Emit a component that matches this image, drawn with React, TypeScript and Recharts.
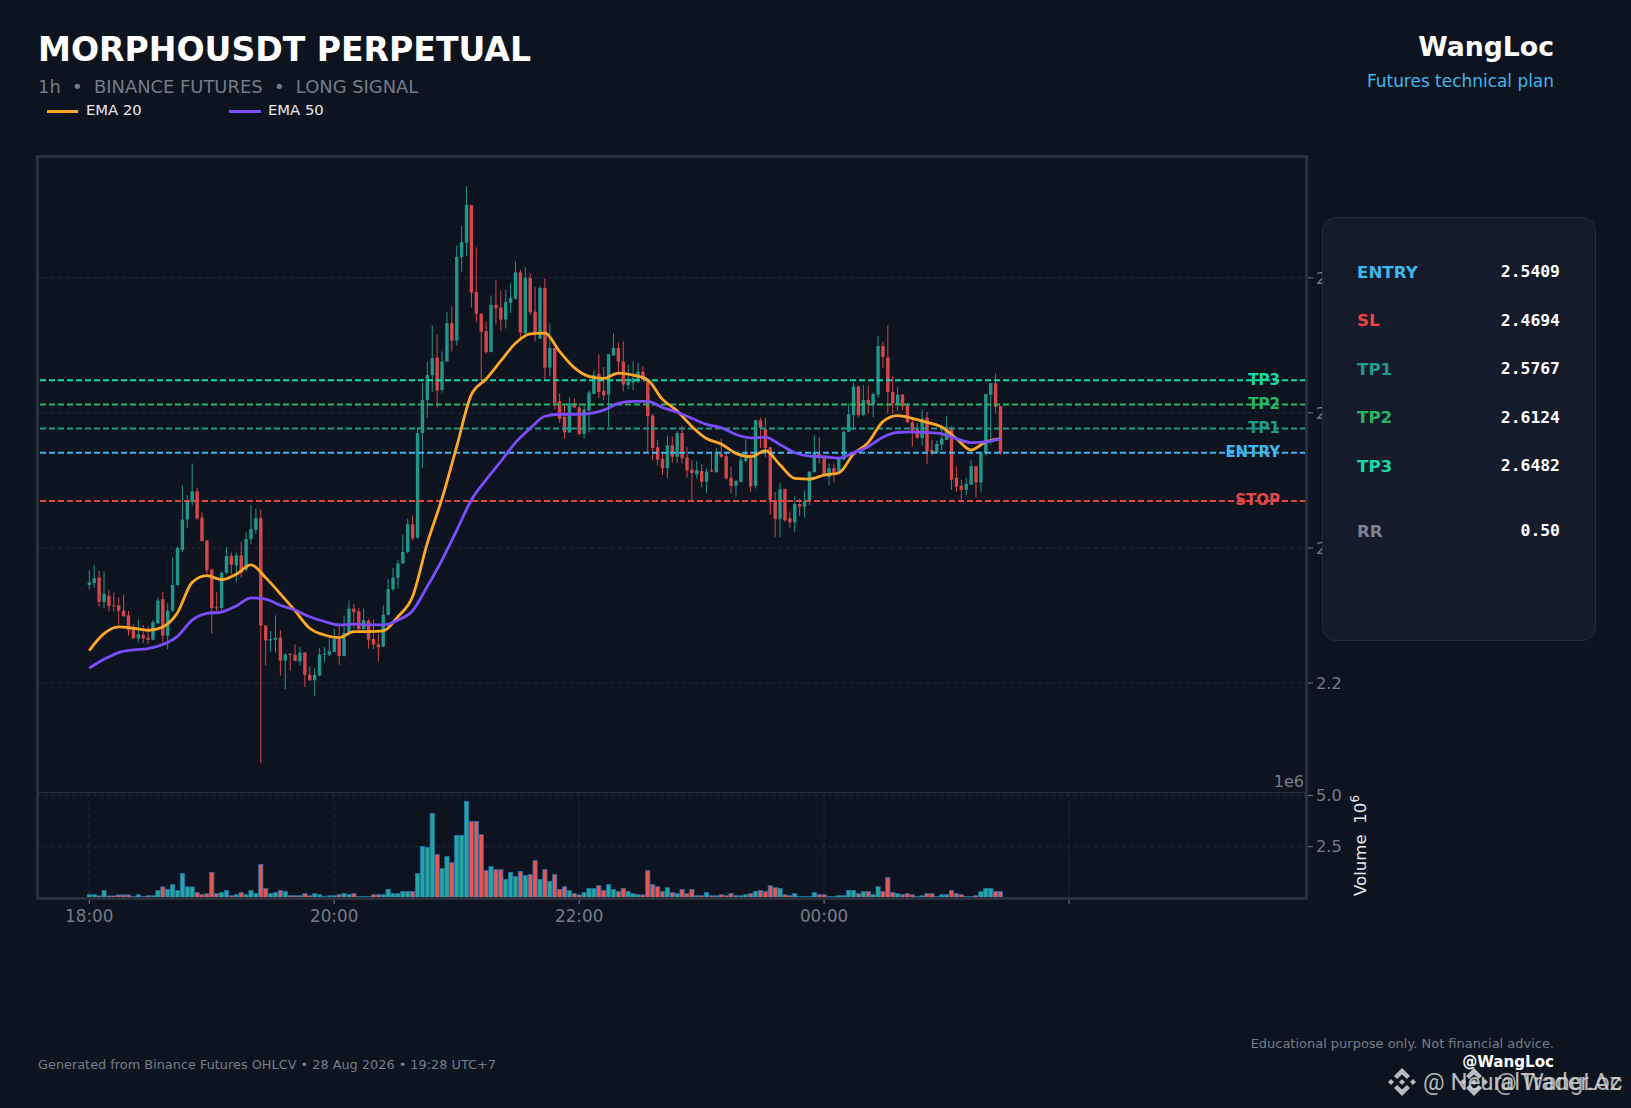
import {
  Bar,
  CartesianGrid,
  ComposedChart,
  Line,
  ReferenceLine,
  XAxis,
  YAxis,
} from "recharts";

const opens = [
  2.345, 2.348, 2.356, 2.32, 2.329, 2.315, 2.315, 2.307, 2.3, 2.281,
  2.266, 2.271, 2.267, 2.264, 2.288, 2.324, 2.27, 2.307, 2.345, 2.397,
  2.442, 2.468, 2.484, 2.445, 2.411, 2.368, 2.312, 2.311, 2.363, 2.388,
  2.374, 2.389, 2.368, 2.413, 2.427, 2.444, 2.285, 2.263, 2.264, 2.267,
  2.233, 2.243, 2.242, 2.232, 2.245, 2.212, 2.204, 2.211, 2.242, 2.242,
  2.246, 2.265, 2.24, 2.274, 2.31, 2.306, 2.28, 2.292, 2.265, 2.257,
  2.254, 2.301, 2.339, 2.356, 2.377, 2.394, 2.435, 2.415, 2.57, 2.619,
  2.656, 2.682, 2.634, 2.676, 2.733, 2.707, 2.831, 2.852, 2.908, 2.779,
  2.747, 2.721, 2.69, 2.76, 2.756, 2.738, 2.763, 2.769, 2.808, 2.718,
  2.8, 2.75, 2.71, 2.785, 2.667, 2.696, 2.617, 2.594, 2.571, 2.614,
  2.608, 2.569, 2.604, 2.628, 2.658, 2.633, 2.627, 2.685, 2.696, 2.676,
  2.641, 2.645, 2.649, 2.661, 2.648, 2.596, 2.549, 2.532, 2.518, 2.552,
  2.535, 2.57, 2.534, 2.516, 2.509, 2.514, 2.498, 2.515, 2.512, 2.539,
  2.536, 2.504, 2.492, 2.498, 2.529, 2.532, 2.492, 2.589, 2.576, 2.549,
  2.471, 2.443, 2.487, 2.444, 2.438, 2.465, 2.461, 2.469, 2.512, 2.539,
  2.534, 2.505, 2.518, 2.512, 2.531, 2.572, 2.597, 2.639, 2.597, 2.619,
  2.613, 2.627, 2.699, 2.682, 2.631, 2.613, 2.627, 2.611, 2.586, 2.575,
  2.563, 2.593, 2.545, 2.541, 2.553, 2.56, 2.578, 2.504, 2.492, 2.486,
  2.494, 2.521, 2.497, 2.54, 2.627, 2.644, 2.61,
];

const highs = [
  2.367, 2.374, 2.366, 2.365, 2.338, 2.334, 2.327, 2.331, 2.307, 2.287,
  2.294, 2.286, 2.284, 2.293, 2.326, 2.335, 2.318, 2.386, 2.402, 2.492,
  2.478, 2.525, 2.489, 2.453, 2.411, 2.369, 2.335, 2.365, 2.401, 2.393,
  2.393, 2.409, 2.423, 2.463, 2.458, 2.457, 2.286, 2.277, 2.3, 2.278,
  2.244, 2.244, 2.257, 2.253, 2.246, 2.224, 2.222, 2.252, 2.253, 2.266,
  2.28, 2.286, 2.3, 2.322, 2.317, 2.311, 2.31, 2.295, 2.294, 2.273,
  2.315, 2.354, 2.37, 2.382, 2.419, 2.443, 2.448, 2.579, 2.645, 2.676,
  2.729, 2.716, 2.691, 2.749, 2.758, 2.848, 2.877, 2.936, 2.908, 2.845,
  2.747, 2.735, 2.774, 2.797, 2.781, 2.782, 2.792, 2.824, 2.812, 2.816,
  2.807, 2.786, 2.788, 2.799, 2.733, 2.696, 2.629, 2.614, 2.623, 2.622,
  2.614, 2.611, 2.633, 2.663, 2.687, 2.668, 2.687, 2.718, 2.705, 2.706,
  2.671, 2.677, 2.674, 2.669, 2.651, 2.599, 2.56, 2.542, 2.566, 2.565,
  2.573, 2.581, 2.549, 2.53, 2.529, 2.524, 2.518, 2.54, 2.548, 2.562,
  2.543, 2.52, 2.501, 2.54, 2.561, 2.543, 2.59, 2.593, 2.593, 2.55,
  2.483, 2.496, 2.488, 2.454, 2.476, 2.473, 2.485, 2.513, 2.567, 2.564,
  2.535, 2.525, 2.525, 2.534, 2.574, 2.614, 2.645, 2.64, 2.641, 2.64,
  2.63, 2.714, 2.706, 2.73, 2.655, 2.638, 2.628, 2.614, 2.591, 2.585,
  2.605, 2.601, 2.56, 2.559, 2.578, 2.595, 2.58, 2.521, 2.501, 2.504,
  2.53, 2.521, 2.541, 2.628, 2.644, 2.658, 2.61,
];

const lows = [
  2.338, 2.341, 2.313, 2.311, 2.306, 2.306, 2.286, 2.298, 2.27, 2.265,
  2.26, 2.259, 2.258, 2.263, 2.288, 2.26, 2.25, 2.305, 2.344, 2.394,
  2.429, 2.463, 2.441, 2.41, 2.362, 2.273, 2.306, 2.307, 2.361, 2.361,
  2.349, 2.356, 2.365, 2.406, 2.421, 2.081, 2.226, 2.246, 2.245, 2.211,
  2.191, 2.218, 2.232, 2.226, 2.194, 2.203, 2.181, 2.21, 2.231, 2.24,
  2.246, 2.227, 2.239, 2.269, 2.281, 2.274, 2.274, 2.251, 2.25, 2.232,
  2.253, 2.3, 2.336, 2.34, 2.376, 2.392, 2.411, 2.414, 2.519, 2.593,
  2.631, 2.608, 2.63, 2.675, 2.691, 2.7, 2.809, 2.832, 2.756, 2.734,
  2.649, 2.687, 2.69, 2.731, 2.721, 2.725, 2.748, 2.768, 2.711, 2.715,
  2.745, 2.706, 2.709, 2.65, 2.654, 2.605, 2.585, 2.562, 2.571, 2.607,
  2.567, 2.562, 2.571, 2.628, 2.622, 2.619, 2.579, 2.685, 2.661, 2.632,
  2.635, 2.634, 2.644, 2.649, 2.54, 2.53, 2.522, 2.508, 2.503, 2.526,
  2.526, 2.525, 2.504, 2.47, 2.503, 2.49, 2.481, 2.512, 2.512, 2.533,
  2.501, 2.481, 2.476, 2.497, 2.527, 2.483, 2.488, 2.548, 2.535, 2.449,
  2.416, 2.416, 2.439, 2.43, 2.424, 2.447, 2.445, 2.464, 2.512, 2.525,
  2.506, 2.493, 2.497, 2.512, 2.53, 2.572, 2.574, 2.594, 2.596, 2.599,
  2.593, 2.622, 2.667, 2.599, 2.599, 2.603, 2.604, 2.585, 2.55, 2.562,
  2.552, 2.524, 2.537, 2.539, 2.544, 2.56, 2.486, 2.483, 2.47, 2.478,
  2.493, 2.474, 2.482, 2.537, 2.553, 2.599, 2.538,
];

const closes = [
  2.349, 2.355, 2.32, 2.332, 2.314, 2.314, 2.307, 2.299, 2.278, 2.266,
  2.272, 2.266, 2.264, 2.29, 2.322, 2.27, 2.307, 2.345, 2.4, 2.442,
  2.468, 2.484, 2.444, 2.41, 2.367, 2.311, 2.311, 2.363, 2.388, 2.375,
  2.389, 2.363, 2.413, 2.428, 2.444, 2.285, 2.263, 2.265, 2.267, 2.233,
  2.242, 2.242, 2.233, 2.245, 2.212, 2.204, 2.212, 2.242, 2.243, 2.247,
  2.265, 2.24, 2.274, 2.31, 2.305, 2.28, 2.293, 2.264, 2.257, 2.253,
  2.301, 2.339, 2.356, 2.377, 2.394, 2.435, 2.414, 2.57, 2.619, 2.656,
  2.681, 2.633, 2.676, 2.733, 2.707, 2.831, 2.853, 2.908, 2.778, 2.747,
  2.72, 2.69, 2.76, 2.755, 2.738, 2.764, 2.77, 2.808, 2.719, 2.8,
  2.749, 2.718, 2.785, 2.667, 2.696, 2.614, 2.591, 2.571, 2.614, 2.608,
  2.569, 2.605, 2.63, 2.656, 2.631, 2.626, 2.687, 2.696, 2.676, 2.642,
  2.646, 2.651, 2.661, 2.649, 2.595, 2.548, 2.531, 2.518, 2.552, 2.535,
  2.57, 2.533, 2.515, 2.511, 2.515, 2.498, 2.513, 2.513, 2.54, 2.535,
  2.503, 2.492, 2.499, 2.53, 2.533, 2.491, 2.589, 2.578, 2.548, 2.471,
  2.443, 2.487, 2.441, 2.438, 2.465, 2.461, 2.469, 2.513, 2.542, 2.535,
  2.506, 2.518, 2.51, 2.532, 2.572, 2.598, 2.639, 2.597, 2.619, 2.613,
  2.628, 2.699, 2.683, 2.631, 2.614, 2.627, 2.61, 2.586, 2.574, 2.563,
  2.591, 2.543, 2.541, 2.554, 2.562, 2.579, 2.501, 2.491, 2.486, 2.495,
  2.521, 2.497, 2.539, 2.628, 2.644, 2.609, 2.541,
];

// volume in millions, one per candle
const volumes = [
  0.16, 0.16, 0.1, 0.36, 0.1, 0.1, 0.15, 0.15, 0.15, 0.07,
  0.16, 0.07, 0.11, 0.11, 0.36, 0.54, 0.41, 0.65, 0.36, 1.19,
  0.54, 0.54, 0.26, 0.16, 0.21, 1.24, 0.21, 0.26, 0.36, 0.11,
  0.16, 0.26, 0.16, 0.36, 0.21, 1.63, 0.46, 0.21, 0.26, 0.36,
  0.31, 0.11, 0.11, 0.11, 0.21, 0.11, 0.21, 0.16, 0.07, 0.11,
  0.11, 0.16, 0.21, 0.16, 0.21, 0.07, 0.07, 0.07, 0.16, 0.16,
  0.16, 0.41, 0.21, 0.21, 0.31, 0.31, 0.31, 1.19, 2.51, 2.46,
  4.12, 2.12, 1.43, 2.02, 1.73, 3.05, 3.05, 4.71, 3.73, 3.73,
  3.09, 1.34, 1.53, 1.38, 1.38, 0.9, 1.24, 1.04, 1.29, 1.09,
  1.14, 1.82, 0.9, 1.38, 0.8, 1.14, 0.41, 0.55, 0.36, 0.21,
  0.15, 0.26, 0.46, 0.46, 0.6, 0.36, 0.65, 0.41, 0.31, 0.46,
  0.31, 0.21, 0.16, 0.15, 1.34, 0.65, 0.55, 0.31, 0.5, 0.26,
  0.21, 0.41, 0.21, 0.41, 0.11, 0.11, 0.26, 0.11, 0.11, 0.16,
  0.11, 0.21, 0.11, 0.11, 0.16, 0.21, 0.31, 0.36, 0.31, 0.6,
  0.5, 0.46, 0.16, 0.11, 0.21, 0.07, 0.07, 0.07, 0.26, 0.16,
  0.16, 0.07, 0.07, 0.11, 0.11, 0.36, 0.36, 0.21, 0.31, 0.31,
  0.16, 0.55, 0.31, 0.99, 0.26, 0.21, 0.16, 0.21, 0.16, 0.07,
  0.11, 0.21, 0.21, 0.07, 0.16, 0.16, 0.36, 0.21, 0.16, 0.07,
  0.07, 0.11, 0.31, 0.46, 0.46, 0.31, 0.31,
];

// at every 3rd candle
const EMA_STEP = 3;
const ema20 = [
  2.248, 2.273, 2.283, 2.281, 2.278, 2.283, 2.304, 2.349, 2.359, 2.353,
  2.361, 2.375, 2.356, 2.332, 2.307, 2.281, 2.271, 2.267, 2.276, 2.276,
  2.277, 2.298, 2.328, 2.407, 2.473, 2.55, 2.627, 2.65, 2.677, 2.703,
  2.717, 2.718, 2.691, 2.667, 2.654, 2.651, 2.659, 2.656, 2.649, 2.62,
  2.603, 2.58, 2.562, 2.554, 2.54, 2.535, 2.544, 2.523, 2.503, 2.502,
  2.508, 2.511, 2.539, 2.556, 2.587, 2.596, 2.592, 2.586, 2.579, 2.562,
  2.545, 2.557, 2.562,
];
const ema50 = [
  2.222, 2.235, 2.245, 2.249, 2.251, 2.257, 2.269, 2.293, 2.303, 2.305,
  2.314, 2.326, 2.324, 2.315, 2.308, 2.298, 2.291, 2.286, 2.287, 2.286,
  2.286, 2.293, 2.307, 2.343, 2.382, 2.426, 2.471, 2.501, 2.528, 2.556,
  2.577, 2.595, 2.598, 2.598, 2.599, 2.604, 2.614, 2.617, 2.617, 2.608,
  2.601, 2.592, 2.583, 2.578, 2.568, 2.563, 2.564, 2.553, 2.541, 2.536,
  2.535, 2.533, 2.541, 2.55, 2.564, 2.571, 2.572, 2.571, 2.569, 2.562,
  2.556, 2.557, 2.562,
];

const TICK_POSITIONS = [0, 50, 100, 150, 200];
const TICK_LABELS = ["18:00", "20:00", "22:00", "00:00", ""];
const PRICE_TICKS = [2.2, 2.4, 2.6, 2.8];
const VOLUME_TICKS = [2.5, 5];

const LEVEL_NAMES = ["TP3", "TP2", "TP1", "ENTRY", "STOP"];
const LEVEL_VALUES = [2.6482, 2.6124, 2.5767, 2.5409, 2.4694];
const LEVEL_COLORS = ["#17d9a5", "#28b463", "#1f9a8c", "#3fb6ec", "#e04848"];

const PLAN_NAMES = ["ENTRY", "SL", "TP1", "TP2", "TP3"];
const PLAN_VALUES = ["2.5409", "2.4694", "2.5767", "2.6124", "2.6482"];
const PLAN_COLORS = ["#3fb6ec", "#ef4444", "#1f9a8c", "#28b463", "#17d9a5"];

const UP = "#22958a";
const DOWN = "#d44749";
const GRID = "#232a37";
const MUTED = "#767c88";
const X_DOMAIN = [-10.67, 248.37];
const FONT = "'DejaVu Sans', sans-serif";

const candleRows = opens.map((open, i) => ({
  i,
  open,
  close: closes[i],
  high: highs[i],
  low: lows[i],
  range: [lows[i], highs[i]],
  volume: volumes[i],
}));

const emaRows = ema20.map((v, k) => ({
  i: k * EMA_STEP,
  ema20: v,
  ema50: ema50[k],
}));

// the library floors the bar offset, so the centre sits half a pixel to the right
function Candle(props: any) {
  const { x, y, width, height, payload } = props;
  const { open, close, high, low } = payload;
  const perUnit = Math.abs(height) / (high - low);
  const top = Math.min(y, y + height);
  const bodyTop = top + (high - Math.max(open, close)) * perUnit;
  const bodyH = Math.max(Math.abs(open - close) * perUnit, 1);
  const color = close >= open ? UP : DOWN;
  const mid = x + width / 2 + 0.5;
  return (
    <g>
      <line x1={mid} x2={mid} y1={top} y2={top + Math.abs(height)} stroke={color} strokeWidth={1} />
      <rect x={mid - 1.7} y={bodyTop} width={3.4} height={bodyH} fill={color} />
    </g>
  );
}

function VolumeBar(props: any) {
  const { x, y, width, height, payload } = props;
  const mid = x + width / 2 + 0.5;
  return (
    <rect
      x={mid - 2.1}
      y={y}
      width={4.2}
      height={height}
      fill={payload.close >= payload.open ? "#26a69a" : "#ef5350"}
      stroke="#1f77b4"
      strokeWidth={0.8}
    />
  );
}

function Txt({ x, y, right, size, color, bold, mono, family, children }: any) {
  return (
    <div
      style={{
        position: "absolute",
        top: y,
        left: right ? undefined : x,
        right: right ? 1631 - x : undefined,
        transform: "translateY(-50%)",
        fontSize: size,
        lineHeight: 1,
        color,
        fontWeight: bold ? 700 : 400,
        fontFamily: family || (mono ? "'DejaVu Sans Mono', monospace" : FONT),
        whiteSpace: "pre",
      }}
    >
      {children}
    </div>
  );
}

function BinanceMark({ x, y }: { x: number; y: number }) {
  return (
    <svg
      width={30}
      height={30}
      viewBox="-15 -15 30 30"
      style={{ position: "absolute", left: x - 15, top: y - 15 }}
    >
      <g fill="rgba(205,205,205,0.9)">
        <path d="M0 -14 L8 -6 L4.9 -2.9 L0 -7.6 L-4.9 -2.9 L-8 -6 Z" />
        <path d="M0 14 L8 6 L4.9 2.9 L0 7.6 L-4.9 2.9 L-8 6 Z" />
        <path d="M-14 0 L-11 -3 L-8 0 L-11 3 Z" />
        <path d="M14 0 L11 -3 L8 0 L11 3 Z" />
        <path d="M0 -3 L3 0 L0 3 L-3 0 Z" />
      </g>
    </svg>
  );
}

export default function App() {
  return (
    <div
      style={{
        position: "relative",
        width: 1631,
        height: 1108,
        overflow: "hidden",
        background: "#0d1420",
        fontFamily: FONT,
      }}
    >
      <style>{"body{margin:0;background:#0d1420}"}</style>

      <Txt x={38} y={50} size={33.1} color="#ffffff" bold>
        MORPHOUSDT PERPETUAL
      </Txt>
      <Txt x={38} y={87} size={17.9} color={MUTED}>
        {"1h  •  BINANCE FUTURES  •  LONG SIGNAL"}
      </Txt>
      <div style={{ position: "absolute", left: 47, top: 110, width: 31, height: 3, background: "#ffa726" }} />
      <Txt x={86} y={110} size={14.8} color="#e8eaee">
        EMA 20
      </Txt>
      <div style={{ position: "absolute", left: 229, top: 110, width: 32, height: 3, background: "#7c4dff" }} />
      <Txt x={268} y={110} size={14.8} color="#e8eaee">
        EMA 50
      </Txt>

      <Txt x={1554} y={47} right size={26.7} color="#ffffff" bold>
        WangLoc
      </Txt>
      <Txt x={1554} y={81} right size={16.95} color="#3fb6ec">
        Futures technical plan
      </Txt>

      <div style={{ position: "absolute", left: 37, top: 157 }}>
        <ComposedChart
          width={1329}
          height={636}
          data={candleRows}
          margin={{ top: 0, right: 0, bottom: 0, left: 0 }}
        >
          <CartesianGrid stroke={GRID} strokeDasharray="4 3" />
          <XAxis
            dataKey="i"
            type="number"
            domain={X_DOMAIN}
            ticks={TICK_POSITIONS}
            allowDataOverflow
            height={0}
            tick={false}
            axisLine={false}
            tickLine={false}
          />
          <YAxis
            orientation="right"
            width={60}
            domain={[2.037, 2.979]}
            ticks={PRICE_TICKS}
            allowDataOverflow
            axisLine={false}
            tickSize={7}
            tickMargin={3}
            tickLine={{ stroke: MUTED }}
            tick={{ fill: MUTED, fontSize: 16.2 }}
            tickFormatter={(v: number) => v.toFixed(1)}
          />
          <Bar
            dataKey="range"
            barSize={4}
            shape={<Candle />}
            isAnimationActive={false}
          />
          {LEVEL_VALUES.map((v, k) => (
            <ReferenceLine
              key={LEVEL_NAMES[k]}
              y={v}
              stroke={LEVEL_COLORS[k]}
              strokeWidth={2}
              strokeDasharray="6 3"
              label={{
                value: LEVEL_NAMES[k],
                position: "insideRight",
                offset: 26,
                dy: -1,
                fill: LEVEL_COLORS[k],
                fontSize: 15,
                fontWeight: 700,
              }}
            />
          ))}
          <Line
            data={emaRows}
            dataKey="ema20"
            type="monotone"
            stroke="#ffa726"
            strokeWidth={2.8}
            dot={false}
            isAnimationActive={false}
          />
          <Line
            data={emaRows}
            dataKey="ema50"
            type="monotone"
            stroke="#7c4dff"
            strokeWidth={2.8}
            dot={false}
            isAnimationActive={false}
          />
        </ComposedChart>
      </div>

      <div style={{ position: "absolute", left: 37, top: 773 }}>
        <ComposedChart
          width={1329}
          height={165}
          data={candleRows}
          margin={{ top: 20, right: 0, bottom: 0, left: 0 }}
        >
          <CartesianGrid stroke={GRID} strokeDasharray="4 3" />
          <XAxis
            dataKey="i"
            type="number"
            domain={X_DOMAIN}
            ticks={TICK_POSITIONS}
            allowDataOverflow
            height={40}
            axisLine={false}
            tickSize={6}
            tickMargin={6}
            tickLine={{ stroke: MUTED }}
            tick={{ fill: MUTED, fontSize: 16.8 }}
            tickFormatter={(v: number) => TICK_LABELS[TICK_POSITIONS.indexOf(v)]}
          />
          <YAxis
            orientation="right"
            width={60}
            domain={[0, 5.12]}
            ticks={VOLUME_TICKS}
            allowDataOverflow
            axisLine={false}
            tickSize={7}
            tickMargin={3}
            tickLine={{ stroke: MUTED }}
            tick={{ fill: MUTED, fontSize: 16.2 }}
            tickFormatter={(v: number) => v.toFixed(1)}
          />
          <Bar
            dataKey="volume"
            barSize={4}
            shape={<VolumeBar />}
            isAnimationActive={false}
          />
        </ComposedChart>
      </div>

      {/* axes frame and the divider between price and volume */}
      <div
        style={{
          position: "absolute",
          left: 36,
          top: 155,
          width: 1272,
          height: 745,
          boxSizing: "border-box",
          border: "3px solid #2a303b",
        }}
      />
      <div style={{ position: "absolute", left: 37, top: 792, width: 1269, height: 1.4, background: "#2a303b" }} />

      <Txt x={1304} y={782} right size={16} color={MUTED}>
        1e6
      </Txt>
      <div
        style={{
          position: "absolute",
          left: 1361,
          top: 896,
          transformOrigin: "0 0",
          transform: "rotate(-90deg) translateY(-50%)",
          fontSize: 16.6,
          lineHeight: 1,
          color: "#e8eaee",
          whiteSpace: "pre",
        }}
      >
        {"Volume  10"}
        <sup style={{ fontSize: 12, lineHeight: 0 }}>6</sup>
      </div>

      <div
        style={{
          position: "absolute",
          left: 1322,
          top: 217,
          width: 274,
          height: 424,
          boxSizing: "border-box",
          background: "#151b2b",
          border: "1.2px solid #262c39",
          borderRadius: 14,
        }}
      />
      {PLAN_NAMES.map((name, k) => (
        <Txt key={name} x={1357} y={271.5 + k * 48.6} size={16.7} color={PLAN_COLORS[k]} bold>
          {name}
        </Txt>
      ))}
      {PLAN_VALUES.map((value, k) => (
        <Txt key={value} x={1560} y={272 + k * 48.6} right size={16.4} color="#ffffff" bold mono>
          {value}
        </Txt>
      ))}
      <Txt x={1357} y={530.5} size={16.7} color="#7d8290" bold>
        RR
      </Txt>
      <Txt x={1560} y={531} right size={16.4} color="#ffffff" bold mono>
        0.50
      </Txt>

      <Txt x={38} y={1065} size={12.86} color={MUTED}>
        {"Generated from Binance Futures OHLCV • 28 Aug 2026 • 19:28 UTC+7"}
      </Txt>
      <Txt x={1554} y={1043} right size={12.98} color={MUTED}>
        Educational purpose only. Not financial advice.
      </Txt>
      <Txt x={1554} y={1063} right size={15.1} color="#ffffff" bold>
        @WangLoc
      </Txt>

      <BinanceMark x={1402} y={1082} />
      <BinanceMark x={1474} y={1082} />
      <Txt x={1423} y={1082} size={24} color="rgba(215,215,215,0.85)" family="Roboto">
        @ NeuralTrader.Az
      </Txt>
      <Txt x={1495} y={1082} size={24} color="rgba(215,215,215,0.8)" family="Roboto">
        @ WangLoc
      </Txt>
    </div>
  );
}
